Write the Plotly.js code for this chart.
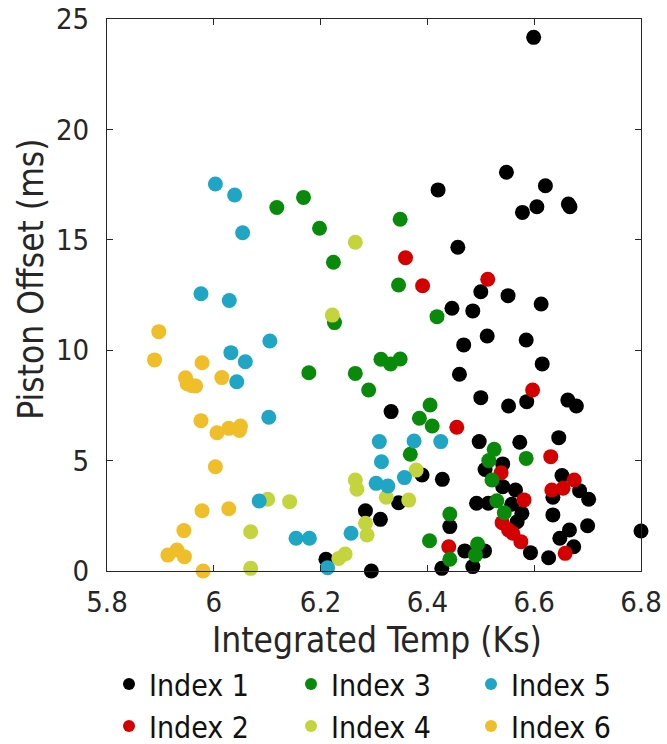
<!DOCTYPE html>
<html>
<head>
<meta charset="utf-8">
<script src="https://cdn.plot.ly/plotly-3.0.1.min.js"></script>
<style>html,body{margin:0;padding:0;background:#fff;}</style>
</head>
<body>
<div id="chart" style="width:667px;height:744px;"></div>
<script>
// ---- data ----
const seriesNames = ["Index 1", "Index 2", "Index 3", "Index 4", "Index 5", "Index 6"];
const seriesColors = ["#000000", "#d40000", "#0a8a0a", "#c3d43c", "#1ea6c4", "#f0be28"];

const idx1X = [6.599,6.548,6.621,6.42,6.605,6.578,6.664,6.667,6.457,6.50,6.551,6.613,6.446,6.485,6.512,6.585,6.468,6.615,6.46,6.50,6.552,6.586,6.663,6.679,6.332,6.497,6.573,6.646,6.541,6.508,6.39,6.428,6.541,6.565,6.652,6.685,6.702,6.635,6.346,6.492,6.514,6.558,6.577,6.568,6.442,6.635,6.284,6.312,6.593,6.627,6.648,6.666,6.70,6.674,6.80,6.427,6.47,6.507,6.485,6.21,6.295];
const idx1Y = [24.17,18.06,17.45,17.26,16.5,16.24,16.62,16.5,14.66,12.65,12.47,12.09,11.9,11.78,10.64,10.46,10.24,9.38,8.91,7.85,7.47,7.67,7.74,7.47,7.22,5.86,5.83,6.04,4.85,4.6,4.35,4.15,3.82,3.67,4.32,3.64,3.25,3.34,3.09,3.07,3.07,3.02,2.61,2.23,2.01,2.54,2.73,2.34,0.83,0.6,1.48,1.86,2.05,1.1,1.81,0.12,0.91,0.91,0.2,0.53,0.0];

const idx2X = [6.359,6.391,6.513,6.597,6.455,6.631,6.538,6.675,6.633,6.654,6.581,6.54,6.552,6.56,6.575,6.658,6.44];
const idx2Y = [14.19,12.92,13.21,8.2,6.51,5.18,4.45,4.12,3.67,3.75,3.22,2.19,1.86,1.71,1.33,0.8,1.1];

const idx3X = [6.118,6.168,6.198,6.224,6.349,6.346,6.226,6.418,6.178,6.265,6.29,6.313,6.331,6.349,6.405,6.385,6.409,6.368,6.585,6.525,6.515,6.521,6.53,6.544,6.442,6.404,6.442,6.494,6.49];
const idx3Y = [16.46,16.92,15.52,13.98,15.93,12.95,11.25,11.52,8.98,8.95,8.2,9.59,9.38,9.6,7.52,6.92,6.57,5.29,5.1,5.51,5.0,4.12,3.18,2.64,2.58,1.37,0.53,1.22,0.72];

const idx4X = [6.265,6.222,6.265,6.268,6.101,6.142,6.284,6.287,6.069,6.246,6.234,6.069,6.379,6.323,6.365];
const idx4Y = [14.89,11.59,4.12,3.7,3.25,3.14,2.16,1.63,1.78,0.77,0.57,0.12,4.57,3.34,3.21];

const idx5X = [6.003,6.039,6.054,5.976,6.029,6.105,6.032,6.059,6.043,6.103,6.085,6.154,6.179,6.257,6.213,6.31,6.375,6.425,6.314,6.357,6.304,6.326];
const idx5Y = [17.53,17.03,15.32,12.56,12.25,10.42,9.89,9.48,8.57,6.96,3.17,1.48,1.48,1.71,0.15,5.86,5.89,5.86,4.95,4.23,3.97,3.85];

const idx6X = [5.897,5.889,5.978,5.947,5.95,5.958,5.966,6.015,5.976,6.006,6.028,6.05,6.048,6.003,5.978,6.028,5.944,5.914,5.931,5.945,5.98];
const idx6Y = [10.84,9.56,9.43,8.75,8.48,8.4,8.38,8.76,6.81,6.26,6.46,6.57,6.36,4.72,2.73,2.82,1.83,0.72,0.95,0.65,0.0];

const xTickVals = [5.8, 6.0, 6.2, 6.4, 6.6, 6.8];
const xTickText = ["5.8", "6", "6.2", "6.4", "6.6", "6.8"];
const yTickVals = [0, 5, 10, 15, 20, 25];
const yTickText = ["0", "5", "10", "15", "20", "25"];
const xTitle = "Integrated Temp (Ks)";
const yTitle = "Piston Offset (ms)";

// ---- build ----
const xs = [idx1X, idx2X, idx3X, idx4X, idx5X, idx6X];
const ys = [idx1Y, idx2Y, idx3Y, idx4Y, idx5Y, idx6Y];
const legendIds = ["legend", "legend", "legend2", "legend2", "legend3", "legend3"];

const FONT = "'DejaVu Sans Condensed', 'DejaVu Sans', sans-serif";
const TXT = "#262626";

const traces = seriesNames.map((name, i) => ({
  type: "scatter",
  mode: "markers",
  name: name,
  x: xs[i],
  y: ys[i],
  legend: legendIds[i],
  cliponaxis: false,
  marker: { color: seriesColors[i], size: 15, line: { width: 0 } },
  hoverinfo: "x+y+name"
}));

function legendAt(xpx) {
  return {
    xref: "container", yref: "container",
    x: xpx / 667, y: 1 - 658 / 744,
    xanchor: "left", yanchor: "top",
    orientation: "v",
    bgcolor: "rgba(0,0,0,0)", borderwidth: 0,
    itemsizing: "constant",
    font: { family: FONT, size: 30, color: "#111" }
  };
}

const axisCommon = {
  showgrid: false, zeroline: false, automargin: false,
  showline: true, linecolor: TXT, linewidth: 1,
  mirror: "ticks", ticks: "inside", ticklen: 6, tickwidth: 1, tickcolor: TXT,
  tickfont: { family: FONT, size: 29, color: TXT },
  tickmode: "array"
};

const layout = {
  width: 667, height: 744,
  margin: { l: 107, r: 26, t: 19, b: 173, pad: 0, autoexpand: false },
  paper_bgcolor: "#ffffff", plot_bgcolor: "#ffffff",
  showlegend: true,
  xaxis: Object.assign({}, axisCommon, {
    range: [5.8, 6.8], tickvals: xTickVals, ticktext: xTickText, ticklabelstandoff: 5
  }),
  yaxis: Object.assign({}, axisCommon, {
    range: [0, 25], tickvals: yTickVals, ticktext: yTickText, ticklabelstandoff: 11
  }),
  legend: legendAt(109),
  legend2: legendAt(291),
  legend3: legendAt(471),
  annotations: [
    { text: xTitle, xref: "paper", yref: "paper", x: 0.506, y: -0.125,
      xanchor: "center", yanchor: "middle", showarrow: false,
      font: { family: FONT, size: 35, color: TXT } },
    { text: yTitle, xref: "paper", yref: "paper", x: -0.144, y: 0.528,
      xanchor: "center", yanchor: "middle", showarrow: false, textangle: -90,
      font: { family: FONT, size: 35, color: TXT } }
  ]
};

Plotly.newPlot("chart", traces, layout, { displayModeBar: false, responsive: false });
</script>
</body>
</html>
